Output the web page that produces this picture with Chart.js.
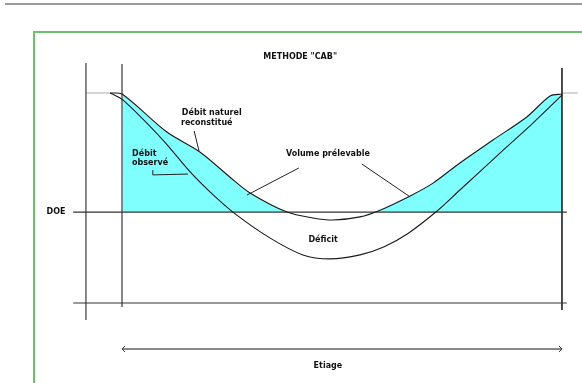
<!DOCTYPE html>
<html>
<head>
<meta charset="utf-8">
<title>Methode CAB</title>
<script src="https://cdn.jsdelivr.net/npm/chart.js@4/dist/chart.umd.min.js"></script>
<style>
    html, body { margin: 0; padding: 0; background: #fff; }
    #wrap { position: relative; width: 582px; height: 383px; overflow: hidden; }
    #topbar { position: absolute; left: 5px; top: 3px; width: 577px; height: 2px; background: #9a9a9a; }
    #frame { position: absolute; left: 33px; top: 31px; width: 600px; height: 400px;
             border-left: 2px solid #6cbf6c; border-top: 2px solid #6cbf6c; }
    #cab { position: absolute; left: 0; top: 0; }
</style>
</head>
<body>
<div id="wrap">
    <div id="topbar"></div>
    <div id="frame"></div>
    <canvas id="cab" width="582" height="383"></canvas>
</div>
<script>
/* ========================================
   Methode "CAB" - debit naturel / observe
   temps en % de l'etiage, debit en % du debit initial
   ======================================== */

const DOE = 43.3;

const naturalDays = [-2.7, 0, 10.2, 17.7, 24.5, 29.1, 37.5, 43.4, 48.0, 54.1, 58.2, 65.5, 70.7, 76.8, 84.3, 92.0, 97.3, 100];
const naturalFlow = [100, 99.5, 81.4, 71.9, 60.0, 52.4, 43.3, 40.5, 39.5, 41.0, 43.8, 51.0, 57.1, 66.7, 77.6, 88.6, 98.6, 99.5];

const observedDays = [-2.7, 0.2, 9.3, 15.5, 20.0, 25.2, 33.6, 41.1, 47.3, 54.1, 59.6, 65.0, 71.6, 76.8, 85.9, 93.4, 100];
const observedFlow = [100, 96.7, 77.6, 62.4, 52.9, 43.3, 31.0, 22.9, 21.0, 22.9, 26.8, 33.1, 43.8, 53.8, 71.4, 85.7, 99.0];

// debut et fin de l'etiage
const etiage = [0, 100];

// window onto the diagram (same units as above)
const X_MIN = -27.73, X_MAX = 104.55;
const Y_MIN = -38.1, Y_MAX = 144.29;

const pts = (xs, ys) => xs.map((v, i) => ({ x: v, y: ys[i] }));
const seg = (a, b) => [{ x: a[0], y: a[1] }, { x: b[0], y: b[1] }];

function lineSet(data, color, width) {
    return {
        data: data,
        borderColor: color,
        borderWidth: width,
        pointRadius: 0,
        fill: false,
        tension: 0,
        order: 1
    };
}

function curveSet(data) {
    const ds = lineSet(data, '#1a1a1a', 1.1);
    ds.tension = 0.3;
    return ds;
}

// Debit naturel reconstitue, seulement pendant l'etiage, pour le volume prelevable
const fillData = pts(naturalDays, naturalFlow).filter(p => p.x >= etiage[0]);

const leaders = [
    [[16.4, 81.9], [17.5, 72.4]],
    [[7.0, 63.3], [7.0, 61.0], [15.0, 61.4]],
    [[40.2, 64.3], [28.4, 51.4]],
    [[54.5, 66.2], [65.5, 50.5]]
];

const labels = [
    { text: 'METHODE "CAB"', t: 40.5, q: 117.1, align: 'center' },
    { text: 'Débit naturel', t: 13.6, q: 90.5, align: 'left' },
    { text: 'reconstitué', t: 13.4, q: 85.7, align: 'left' },
    { text: 'Débit', t: 2.3, q: 71.0, align: 'left' },
    { text: 'observé', t: 2.3, q: 66.7, align: 'left' },
    { text: 'Volume prélevable', t: 46.8, q: 71.0, align: 'center' },
    { text: 'Déficit', t: 45.7, q: 30.0, align: 'center' },
    { text: 'DOE', t: -15.0, q: DOE, align: 'center' },
    { text: 'Etiage', t: 46.8, q: -30.0, align: 'center' }
];

const annotate = {
    id: 'annotate',
    afterDatasetsDraw(chart) {
        const { ctx, scales: { x, y } } = chart;
        const px = t => x.getPixelForValue(t);
        const py = q => y.getPixelForValue(q);
        ctx.save();

        ctx.strokeStyle = '#222';
        ctx.lineWidth = 1;
        leaders.forEach(l => {
            ctx.beginPath();
            l.forEach((p, i) => i ? ctx.lineTo(px(p[0]), py(p[1])) : ctx.moveTo(px(p[0]), py(p[1])));
            ctx.stroke();
        });

        // arrow heads on the etiage line
        const ay = py(-21.9);
        ctx.strokeStyle = '#333';
        ctx.beginPath();
        ctx.moveTo(px(etiage[0]) + 3, ay - 3);
        ctx.lineTo(px(etiage[0]), ay);
        ctx.lineTo(px(etiage[0]) + 3, ay + 3);
        ctx.moveTo(px(etiage[1]) - 3, ay - 3);
        ctx.lineTo(px(etiage[1]), ay);
        ctx.lineTo(px(etiage[1]) - 3, ay + 3);
        ctx.stroke();

        ctx.fillStyle = '#111';
        ctx.font = 'bold 8px "DejaVu Sans"';
        ctx.textBaseline = 'middle';
        labels.forEach(l => {
            ctx.textAlign = l.align;
            ctx.fillText(l.text, px(l.t), py(l.q));
        });
        ctx.restore();
    }
};

new Chart(document.getElementById('cab'), {
    type: 'line',
    data: {
        datasets: [
            curveSet(pts(naturalDays, naturalFlow)),
            curveSet(pts(observedDays, observedFlow)),
            // DOE and zero-flow lines
            lineSet(seg([-11.1, DOE], [101.1, DOE]), '#333', 1.2),
            lineSet(seg([-11.1, 0], [101.1, 0]), '#333', 1.2),
            // axes and limits of the etiage
            lineSet(seg([-8.2, 114.3], [-8.2, -8.1]), '#555', 1.4),
            lineSet(seg([etiage[0], 113.8], [etiage[0], -1.9]), '#777', 1),
            lineSet(seg([etiage[1], 111.9], [etiage[1], -3.3]), '#333', 1),
            lineSet(seg([-8.2, 100], [-2.7, 100]), '#aaa', 1),
            lineSet(seg([etiage[1], 100], [103.6, 100]), '#aaa', 1),
            lineSet(seg([etiage[0], -21.9], [etiage[1], -21.9]), '#888', 2),
            {
                data: fillData,
                borderWidth: 0,
                pointRadius: 0,
                tension: 0.3,
                fill: { value: DOE, above: '#80ffff', below: 'rgba(0,0,0,0)' },
                order: 5
            }
        ]
    },
    options: {
        responsive: false,
        animation: false,
        layout: { padding: 0 },
        scales: {
            x: { type: 'linear', min: X_MIN, max: X_MAX, display: false },
            y: { type: 'linear', min: Y_MIN, max: Y_MAX, display: false }
        },
        plugins: {
            legend: { display: false },
            tooltip: { enabled: false }
        }
    },
    plugins: [annotate]
});
</script>
</body>
</html>
